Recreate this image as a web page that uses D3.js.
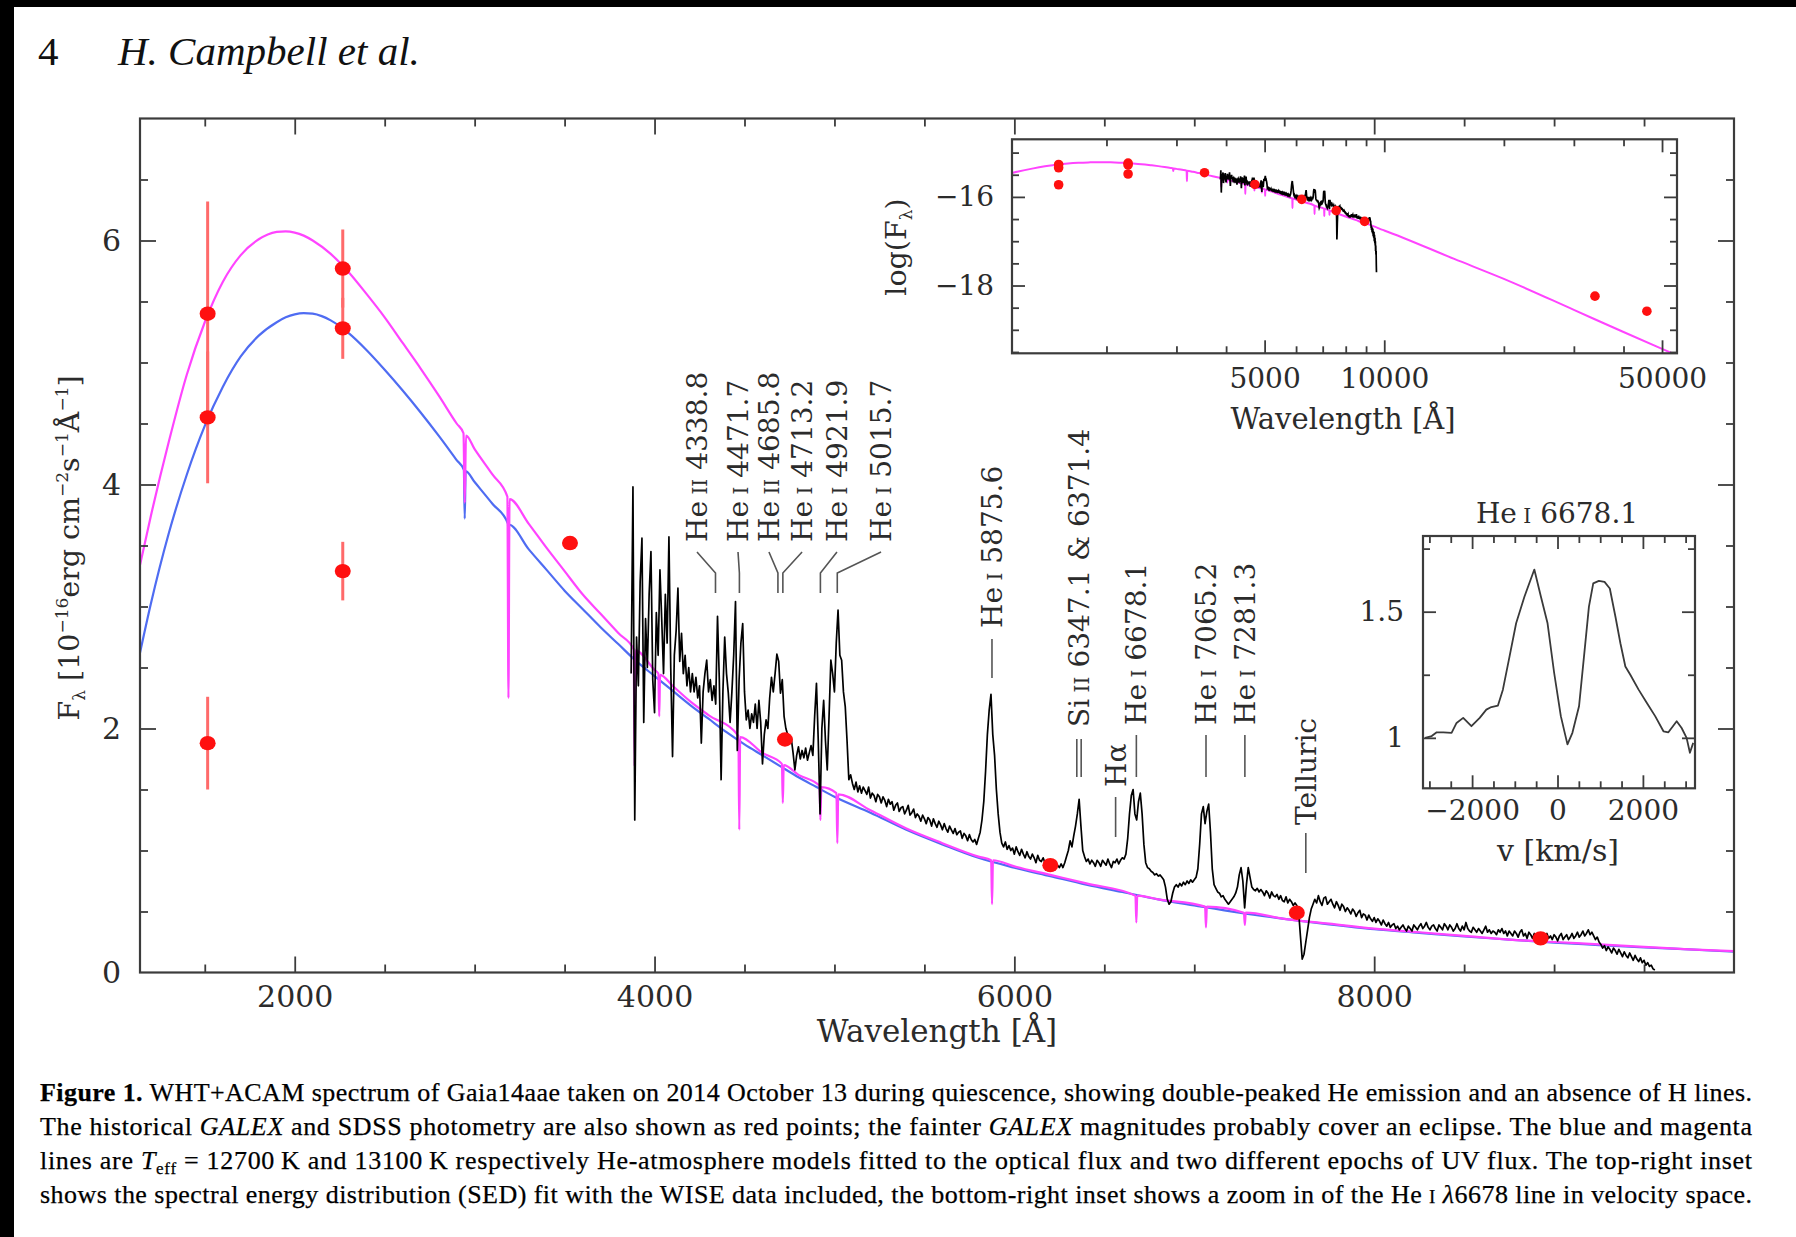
<!DOCTYPE html>
<html>
<head>
<meta charset="utf-8">
<script src="https://cdn.jsdelivr.net/npm/d3@7"></script>
<style>
  body { margin: 0; background: #fff; }
  svg { display: block; }
</style>
</head>
<body>
<svg id="fig" width="1796" height="1237"></svg>
<script>
// ---------------------------------------------------------------
// Gaia14aae: WHT+ACAM spectrum, photometry and He-atmosphere models
// ---------------------------------------------------------------

// Observed spectrum, flux in 1e-16 erg/cm2/s/A, on a 10 A grid from 3870 A
const specStart = 3870;
const specStep = 10;
const specFlux = [
  2.45, 3.98, 1.25, 2.75, 2.35, 3.2, 3.56, 2.05, 2.9, 2.5,      // 3870
  3.1, 3.45, 2.4, 2.13, 2.95, 2.6, 3.3, 2.89, 2.45, 3.1,        // 3970
  2.7, 3.57, 2.5, 1.77, 2.6, 2.8, 3.15, 2.55, 2.78, 2.45,       // 4070
  2.6, 2.35, 2.5, 2.3, 2.45, 2.3, 2.42, 2.25, 2.35, 1.88,       // 4170
  2.3, 2.45, 2.56, 2.3, 2.4, 2.23, 2.35, 2.2, 2.92, 2.4,        // 4270
  1.58, 2.3, 2.75, 2.45, 2.29, 2.05, 2.3, 2.6, 3.04, 1.82,      // 4370
  2.4, 2.7, 2.86, 2.3, 2.07, 2.15, 2.0, 2.12, 2.05, 2.2,        // 4470
  2.0, 2.23, 2.05, 1.71, 1.95, 2.07, 2.0, 2.25, 2.42, 2.3,      // 4570
  2.45, 2.61, 2.55, 2.29, 2.4, 2.1, 2.0, 1.95, 1.88, 1.92,      // 4670
  1.8, 1.66, 1.78, 1.85, 1.75, 1.82, 1.76, 1.84, 1.74, 1.8,     // 4770
  1.86, 1.78, 2.1, 2.37, 1.9, 1.3, 2.0, 2.23, 1.9, 1.66,        // 4870
  2.1, 2.56, 2.45, 2.3, 2.7, 2.97, 2.6, 2.56, 2.3, 2.18,        // 4970
  1.9, 1.58, 1.62, 1.55, 1.5, 1.56, 1.48, 1.53, 1.47, 1.52,     // 5070
  1.49, 1.46, 1.52, 1.43, 1.47, 1.45, 1.40, 1.46, 1.44, 1.39,   // 5170
  1.44, 1.41, 1.36, 1.42, 1.38, 1.40, 1.33, 1.37, 1.39, 1.32,   // 5270
  1.35, 1.36, 1.30, 1.33, 1.37, 1.29, 1.31, 1.34, 1.27, 1.30,   // 5370
  1.28, 1.24, 1.29, 1.26, 1.22, 1.27, 1.25, 1.20, 1.26, 1.22,   // 5470
  1.19, 1.24, 1.21, 1.17, 1.22, 1.18, 1.15, 1.20, 1.17, 1.14,   // 5570
  1.18, 1.13, 1.15, 1.16, 1.10, 1.14, 1.12, 1.08, 1.13, 1.09,   // 5670
  1.07, 1.09, 1.05, 1.1, 1.15, 1.25, 1.4, 1.65, 1.95, 2.15,     // 5770
  2.28, 1.95, 1.78, 1.5, 1.3, 1.15, 1.06, 1.03, 1.07, 1.01,     // 5870
  1.04, 1.0, 1.02, 0.97, 1.03, 0.99, 0.96, 1.01, 0.97, 0.94,    // 5970
  0.99, 0.95, 0.93, 0.97, 0.94, 0.9, 0.96, 0.92, 0.91, 0.94,    // 6070
  0.9, 0.92, 0.87, 0.91, 0.89, 0.85, 0.9, 0.88, 0.86, 0.89,     // 6170
  0.86, 0.9, 0.95, 1.0, 1.08, 1.03, 1.12, 1.2, 1.3, 1.42,       // 6270
  1.2, 1.0, 0.95, 0.91, 0.93, 0.89, 0.92, 0.9, 0.87, 0.92,      // 6370
  0.9, 0.87, 0.92, 0.9, 0.88, 0.93, 0.89, 0.86, 0.91, 0.9,      // 6470
  0.93, 0.89, 0.92, 0.94, 0.93, 0.97, 1.1, 1.3, 1.45, 1.5,      // 6570
  1.3, 1.25, 1.4, 1.47, 1.3, 1.05, 0.9, 0.86, 0.85, 0.83,       // 6670
  0.82, 0.8, 0.81, 0.79, 0.8, 0.78, 0.76, 0.7, 0.6, 0.56,       // 6770
  0.58, 0.65, 0.7, 0.72, 0.7, 0.73, 0.71, 0.74, 0.72, 0.75,     // 6870
  0.73, 0.76, 0.74, 0.76, 0.78, 0.85, 1.05, 1.3, 1.36, 1.22,    // 6970
  1.32, 1.38, 1.15, 0.85, 0.72, 0.69, 0.66, 0.65, 0.62, 0.63,   // 7070
  0.6, 0.58, 0.56, 0.58, 0.6, 0.62, 0.65, 0.7, 0.8, 0.86,       // 7170
  0.75, 0.53, 0.72, 0.86, 0.78, 0.7, 0.68, 0.67, 0.69, 0.66,    // 7270
  0.68, 0.66, 0.63, 0.67, 0.65, 0.61, 0.66, 0.63, 0.62, 0.64,   // 7370
  0.6, 0.63, 0.59, 0.58, 0.62, 0.57, 0.6, 0.58, 0.55, 0.57,     // 7470
  0.55, 0.5, 0.3, 0.11, 0.15, 0.25, 0.35, 0.45, 0.52, 0.56,     // 7570
  0.6, 0.57, 0.63, 0.58, 0.55, 0.61, 0.62, 0.56, 0.58, 0.6,     // 7670
  0.56, 0.53, 0.58, 0.55, 0.51, 0.56, 0.54, 0.5, 0.53, 0.51,    // 7770
  0.48, 0.52, 0.5, 0.46, 0.49, 0.51, 0.45, 0.48, 0.47, 0.43,    // 7870
  0.47, 0.44, 0.42, 0.45, 0.41, 0.44, 0.42, 0.39, 0.43, 0.4,    // 7970
  0.38, 0.41, 0.37, 0.39, 0.4, 0.36, 0.38, 0.35, 0.37, 0.39,    // 8070
  0.36, 0.34, 0.38, 0.36, 0.34, 0.39, 0.37, 0.35, 0.38, 0.4,    // 8170
  0.36, 0.38, 0.41, 0.37, 0.35, 0.38, 0.39, 0.36, 0.34, 0.39,   // 8270
  0.37, 0.35, 0.4, 0.38, 0.35, 0.39, 0.37, 0.34, 0.36, 0.4,     // 8370
  0.36, 0.34, 0.38, 0.35, 0.41, 0.36, 0.34, 0.33, 0.37, 0.35,   // 8470
  0.33, 0.36, 0.34, 0.32, 0.35, 0.38, 0.33, 0.35, 0.32, 0.34,   // 8570
  0.33, 0.31, 0.35, 0.33, 0.36, 0.32, 0.34, 0.3, 0.34, 0.32,    // 8670
  0.3, 0.34, 0.32, 0.29, 0.33, 0.35, 0.3, 0.32, 0.28, 0.33,     // 8770
  0.31, 0.28, 0.32, 0.3, 0.27, 0.31, 0.29, 0.26, 0.3, 0.32,     // 8870
  0.28, 0.3, 0.27, 0.31, 0.29, 0.26, 0.3, 0.32, 0.27, 0.29,     // 8970
  0.31, 0.27, 0.29, 0.32, 0.28, 0.3, 0.33, 0.29, 0.31, 0.34,    // 9070
  0.3, 0.32, 0.35, 0.31, 0.33, 0.3, 0.27, 0.29, 0.25, 0.23,     // 9170
  0.2, 0.22, 0.18, 0.21, 0.19, 0.16, 0.2, 0.18, 0.15, 0.19,     // 9270
  0.16, 0.13, 0.17, 0.14, 0.12, 0.16, 0.13, 0.1, 0.14, 0.11,    // 9370
  0.09, 0.12, 0.08, 0.1, 0.06, 0.08, 0.05, 0.06, 0.03, 0.02     // 9470
];

// Teff = 13100 K He-atmosphere model (magenta): [wavelength A, flux]
const modelHot = [
  [1140, 3.34], [1200, 3.74], [1300, 4.35], [1400, 4.9], [1500, 5.33], [1600, 5.66],
  [1700, 5.88], [1800, 6.01], [1850, 6.05], [1900, 6.07], [1950, 6.075], [2000, 6.065],
  [2050, 6.04], [2100, 6.0], [2200, 5.89], [2300, 5.74], [2400, 5.56], [2500, 5.37],
  [2600, 5.16], [2700, 4.95], [2800, 4.73], [2900, 4.5], [2938, 4.42], [2945, 3.85],
  [2952, 4.4], [3000, 4.29], [3100, 4.08], [3182, 3.9], [3188, 2.25], [3194, 3.88],
  [3300, 3.68], [3400, 3.48], [3500, 3.29], [3600, 3.1], [3700, 2.94], [3800, 2.78],
  [3884, 2.65], [3889, 1.69], [3894, 2.64], [4000, 2.48], [4021, 2.45], [4026, 2.1],
  [4031, 2.44], [4100, 2.35], [4200, 2.22], [4300, 2.11], [4466, 1.94], [4471, 1.17],
  [4476, 1.93], [4600, 1.8], [4708, 1.71], [4713, 1.39], [4718, 1.7], [4800, 1.62],
  [4917, 1.53], [4922, 1.25], [4927, 1.52], [5011, 1.47], [5016, 1.06], [5021, 1.46],
  [5200, 1.33], [5400, 1.18], [5600, 1.06], [5800, 0.95], [5871, 0.92], [5876, 0.56],
  [5881, 0.92], [6000, 0.87], [6200, 0.8], [6400, 0.73], [6673, 0.63], [6678, 0.41],
  [6683, 0.63], [6800, 0.6], [7060, 0.54], [7065, 0.37], [7070, 0.54], [7276, 0.49],
  [7281, 0.39], [7286, 0.49], [7500, 0.44], [7750, 0.4], [8000, 0.36], [8250, 0.33],
  [8500, 0.3], [8750, 0.27], [9000, 0.25], [9250, 0.23], [9500, 0.21], [9750, 0.19],
  [10000, 0.175]
];

// Same model continued into the WISE range, log10(F_lambda)
const modelHotIR = [
  [15000, -17.4], [20000, -17.85], [30000, -18.55], [40000, -19.05], [50000, -19.43], [56000, -19.62]
];

// Teff = 12700 K He-atmosphere model (blue): [wavelength A, flux]
const modelCool = [
  [1140, 2.62], [1200, 3.02], [1300, 3.6], [1400, 4.08], [1500, 4.48], [1600, 4.8],
  [1700, 5.05], [1800, 5.22], [1900, 5.33], [1950, 5.37], [2000, 5.395], [2050, 5.405],
  [2100, 5.4], [2150, 5.38], [2200, 5.345], [2300, 5.24], [2400, 5.1], [2500, 4.94],
  [2600, 4.77], [2700, 4.59], [2800, 4.4], [2900, 4.2], [2940, 4.12], [2945, 3.72],
  [2950, 4.11], [3000, 4.02], [3100, 3.84], [3185, 3.68], [3188, 3.58], [3192, 3.67],
  [3300, 3.47], [3400, 3.3], [3500, 3.13], [3600, 2.98], [3700, 2.83], [3800, 2.69],
  [3900, 2.55], [4000, 2.43], [4100, 2.31], [4200, 2.19], [4300, 2.08], [4400, 1.97],
  [4500, 1.87], [4600, 1.78], [4700, 1.69], [4800, 1.6], [4900, 1.52], [5000, 1.44],
  [5200, 1.31], [5400, 1.17], [5600, 1.05], [5800, 0.94], [6000, 0.86], [6200, 0.79],
  [6400, 0.72], [6600, 0.66], [6800, 0.6], [7000, 0.55], [7250, 0.49], [7500, 0.44],
  [7750, 0.395], [8000, 0.355], [8250, 0.325], [8500, 0.295], [8750, 0.27], [9000, 0.245],
  [9250, 0.225], [9500, 0.205], [9750, 0.19], [10000, 0.17]
];

// GALEX FUV/NUV (two epochs + faint) and SDSS ugriz photometry
const photLambda = [1516, 1516, 1516, 2267, 2267, 2267, 3530, 4725, 6200, 7570, 8925];
const photFlux   = [5.40, 4.55, 1.88, 5.77, 5.28, 3.29, 3.52, 1.91, 0.88, 0.49, 0.28];
const photErr    = [0.92, 0.54, 0.38, 0.32, 0.25, 0.24, 0, 0, 0, 0, 0];

// WISE W1/W2, log10(F_lambda)
const wiseLambda  = [33900, 45800];
const wiseLogFlux = [-18.24, -18.58];

// Identified lines
const lineNames = ['He II 4338.8', 'He I 4471.7', 'He II 4685.8', 'He I 4713.2', 'He I 4921.9',
                   'He I 5015.7', 'He I 5875.6', 'Si II 6347.1 & 6371.4', 'Hα', 'He I 6678.1',
                   'He I 7065.2', 'He I 7281.3', 'Telluric'];
const lineLambda = [[4338.8], [4471.7], [4685.8], [4713.2], [4921.9], [5015.7], [5875.6],
                    [6347.1, 6371.4], [6562.8], [6678.1], [7065.2], [7281.3], [7620]];

// He I 6678 profile in velocity space
const profileVel  = [-3101, -2946, -2829, -2674, -2481, -2364, -2209, -2016, -1822, -1667,
                     -1550, -1395, -1279, -1124, -969, -775, -543, -388, -233, -78,
                     78, 233, 349, 504, 620, 736, 837, 969, 1101, 1225,
                     1357, 1473, 1589, 1705, 1899, 2093, 2287, 2481, 2597, 2791,
                     2907, 3023, 3101, 3178];
const profileFlux = [1.0, 1.007, 1.022, 1.022, 1.02, 1.059, 1.079, 1.046, 1.079, 1.112,
                     1.122, 1.128, 1.191, 1.322, 1.454, 1.559, 1.667, 1.559, 1.454, 1.257,
                     1.086, 0.974, 1.02, 1.125, 1.322, 1.52, 1.612, 1.622, 1.618, 1.592,
                     1.48, 1.375, 1.283, 1.25, 1.191, 1.138, 1.086, 1.026, 1.022, 1.066,
                     1.039, 1.0, 0.941, 0.98];

// Axis ticks
const mainXMajor = [2000, 4000, 6000, 8000];
const mainXMinor = [1500, 2500, 3000, 3500, 4500, 5000, 5500, 6500, 7000, 7500, 8500, 9000, 9500];
const mainYMajor = [2, 4, 6];
const mainYMinor = [0.5, 1, 1.5, 2.5, 3, 3.5, 4.5, 5, 5.5, 6.5];
const sedXMajor = [5000, 10000, 50000];
const sedXMinor = [2000, 3000, 4000, 6000, 7000, 8000, 9000, 20000, 30000, 40000];
const sedYMajor = [-18, -16];
const sedYMinor = [-19.5, -19, -18.5, -17.5, -17, -16.5, -15.5, -15];
const velXMajor = [-2000, 0, 2000];
const velXMinor = [-3000, -2500, -1500, -1000, -500, 500, 1000, 1500, 2500, 3000];
const velYMajor = [1, 1.5];
const velYMinor = [1.25, 1.75];

// Caption lines
const captionLines = [
  [['Figure 1.', 'b'], [' WHT+ACAM spectrum of Gaia14aae taken on 2014 October 13 during quiescence, showing double-peaked He emission and an absence of H lines.']],
  [['The historical '], ['GALEX', 'i'], [' and SDSS photometry are also shown as red points; the fainter '], ['GALEX', 'i'], [' magnitudes probably cover an eclipse. The blue and magenta']],
  [['lines are '], ['T', 'i'], ['eff', 'sub'], [' = 12700\u2009K and 13100\u2009K respectively He-atmosphere models fitted to the optical flux and two different epochs of UV flux. The top-right inset']],
  [['shows the spectral energy distribution (SED) fit with the WISE data included, the bottom-right inset shows a zoom in of the He '], ['I', 'sc'], [' '], ['λ', 'i'], ['6678 line in velocity space.']]
];

// ---------------------------------------------------------------
const W = 1796, H = 1237;
const FRAME = '#3c3c3c';
const INK = '#2b2b2b';
const SERIF = '"DejaVu Serif", serif';
const TIMES = '"Liberation Serif", "Times New Roman", Times, serif';
const MAGENTA = '#ff44ff';
const BLUE = '#4f6cf2';
const RED = '#ff1010';
const ERRRED = '#ff6a6a';

const svg = d3.select('#fig');
svg.append('rect').attr('width', W).attr('height', H).attr('fill', '#fff');
// dark scan margins
svg.append('rect').attr('x', 0).attr('y', 0).attr('width', 14).attr('height', H).attr('fill', '#000');
svg.append('rect').attr('x', 0).attr('y', 0).attr('width', W).attr('height', 7).attr('fill', '#000');

// running head
svg.append('text').attr('x', 38).attr('y', 65).attr('font-family', TIMES).attr('font-size', 41)
  .attr('fill', '#111').text('4');
svg.append('text').attr('x', 118).attr('y', 65).attr('font-family', TIMES).attr('font-size', 41)
  .attr('font-style', 'italic').attr('fill', '#111').text('H. Campbell et al.');

// ---------- helpers ----------
function tickSet(g, scale, side, vals, len, pos) {
  const gen = { bottom: d3.axisBottom, top: d3.axisTop, left: d3.axisLeft, right: d3.axisRight }[side];
  const horiz = side === 'bottom' || side === 'top';
  const t = g.append('g')
    .attr('transform', horiz ? `translate(0,${pos})` : `translate(${pos},0)`)
    .call(gen(scale).tickValues(vals).tickSize(-len).tickFormat(''));
  t.select('.domain').remove();
  t.selectAll('.tick line').attr('stroke', FRAME).attr('stroke-width', 1.8);
  t.selectAll('text').remove();
}

function tickLabels(g, scale, side, vals, pos, pad, fs, fmt) {
  const gen = side === 'bottom' ? d3.axisBottom : d3.axisLeft;
  const t = g.append('g')
    .attr('transform', side === 'bottom' ? `translate(0,${pos})` : `translate(${pos},0)`)
    .call(gen(scale).tickValues(vals).tickSize(0).tickPadding(pad).tickFormat(fmt));
  t.select('.domain').remove();
  t.selectAll('text').attr('font-family', SERIF).attr('font-size', fs).attr('fill', INK);
}

function panel(g, xs, ys, ticks, lenMaj, lenMin) {
  const [x0, x1] = xs.range();
  const [y0, y1] = ys.range();
  g.append('rect').attr('x', x0).attr('y', y1).attr('width', x1 - x0).attr('height', y0 - y1)
    .attr('fill', '#fff').attr('stroke', 'none');
  return () => {
    tickSet(g, xs, 'bottom', ticks.xMajor, lenMaj, y0);
    tickSet(g, xs, 'bottom', ticks.xMinor, lenMin, y0);
    tickSet(g, xs, 'top', ticks.xMajor, lenMaj, y1);
    tickSet(g, xs, 'top', ticks.xMinor, lenMin, y1);
    tickSet(g, ys, 'left', ticks.yMajor, lenMaj, x0);
    tickSet(g, ys, 'left', ticks.yMinor, lenMin, x0);
    tickSet(g, ys, 'right', ticks.yMajor, lenMaj, x1);
    tickSet(g, ys, 'right', ticks.yMinor, lenMin, x1);
    g.append('rect').attr('x', x0).attr('y', y1).attr('width', x1 - x0).attr('height', y0 - y1)
      .attr('fill', 'none').attr('stroke', FRAME).attr('stroke-width', 2.2);
  };
}

function clipFor(id, xs, ys) {
  const [x0, x1] = xs.range();
  const [y0, y1] = ys.range();
  svg.append('clipPath').attr('id', id).append('rect')
    .attr('x', x0).attr('y', y1).attr('width', x1 - x0).attr('height', y0 - y1);
  return `url(#${id})`;
}

// He I / He II style label: roman numerals in small capitals
function ionText(sel, str, fs) {
  str.split(' ').forEach((tok, i) => {
    const t = sel.append('tspan').text((i ? ' ' : '') + tok);
    if (/^I+$/.test(tok)) t.attr('font-size', fs * 0.72);
  });
}

// ---------- main panel ----------
const x = d3.scaleLinear().domain([1140, 10000]).range([140, 1734]);
const y = d3.scaleLinear().domain([0, 7]).range([972.5, 118.5]);
const gMain = svg.append('g');
const finishMain = panel(gMain, x, y,
  { xMajor: mainXMajor, xMinor: mainXMinor, yMajor: mainYMajor, yMinor: mainYMinor }, 16, 8);
const mainClip = clipFor('clipMain', x, y);

const modelLine = d3.line().x(d => x(d[0])).y(d => y(d[1])).curve(d3.curveMonotoneX);
const gData = gMain.append('g').attr('clip-path', mainClip);
gData.append('path').datum(modelCool).attr('d', modelLine)
  .attr('fill', 'none').attr('stroke', BLUE).attr('stroke-width', 2.2);
gData.append('path').datum(modelHot).attr('d', modelLine)
  .attr('fill', 'none').attr('stroke', MAGENTA).attr('stroke-width', 2.2);

const spectrum = specFlux.map((f, i) => [specStart + i * specStep, f]);
gData.append('path').datum(spectrum)
  .attr('d', d3.line().x(d => x(d[0])).y(d => y(d[1])))
  .attr('fill', 'none').attr('stroke', '#000').attr('stroke-width', 1.7).attr('stroke-linejoin', 'round');

const phot = photLambda.map((l, i) => ({ l, f: photFlux[i], e: photErr[i] }));
gData.selectAll('line.err').data(phot.filter(d => d.e > 0)).join('line')
  .attr('x1', d => x(d.l)).attr('x2', d => x(d.l))
  .attr('y1', d => y(d.f - d.e)).attr('y2', d => y(d.f + d.e))
  .attr('stroke', ERRRED).attr('stroke-width', 3);
gData.selectAll('ellipse.pt').data(phot).join('ellipse')
  .attr('cx', d => x(d.l)).attr('cy', d => y(d.f)).attr('rx', 8).attr('ry', 7.2)
  .attr('fill', RED);

finishMain();

tickLabels(gMain, x, 'bottom', mainXMajor, 972.5, 13, 30, d3.format('d'));
tickLabels(gMain, y, 'left', [0, 2, 4, 6], 140, 19, 30, d3.format('d'));

gMain.append('text').attr('x', 937).attr('y', 1042).attr('text-anchor', 'middle')
  .attr('font-family', SERIF).attr('font-size', 31).attr('fill', INK).text('Wavelength [Å]');

// y-axis title with sub/superscripts
{
  const t = gMain.append('text').attr('transform', 'translate(79,548) rotate(-90)')
    .attr('text-anchor', 'middle').attr('font-family', SERIF).attr('font-size', 28.5).attr('fill', INK);
  const s = 17;
  t.append('tspan').text('F');
  t.append('tspan').attr('font-size', s).attr('dy', 6).text('λ');
  t.append('tspan').attr('dy', -6).text(' [10');
  t.append('tspan').attr('font-size', s).attr('dy', -11).text('−16');
  t.append('tspan').attr('dy', 11).text('erg cm');
  t.append('tspan').attr('font-size', s).attr('dy', -11).text('−2');
  t.append('tspan').attr('dy', 11).text('s');
  t.append('tspan').attr('font-size', s).attr('dy', -11).text('−1');
  t.append('tspan').attr('dy', 11).text('Å');
  t.append('tspan').attr('font-size', s).attr('dy', -11).text('−1');
  t.append('tspan').attr('dy', 11).text(']');
}

// ---------- line identifications ----------
const LBL_FS = 28;
const gLbl = gMain.append('g');
// upper group with angled leaders: column wavelength for each label
const upperCols = [4236, 4464, 4636, 4820, 5014, 5259];
upperCols.forEach((col, i) => {
  const cx = x(col);
  const t = gLbl.append('text').attr('transform', `translate(${cx + 0.36 * LBL_FS},542) rotate(-90)`)
    .attr('font-family', SERIF).attr('font-size', LBL_FS).attr('fill', INK);
  ionText(t, lineNames[i], LBL_FS);
  const lx = x(lineLambda[i][0]);
  gLbl.append('path').attr('d', d3.line()([[cx, 552], [lx, 573], [lx, 593]]))
    .attr('fill', 'none').attr('stroke', '#555').attr('stroke-width', 1.6);
});
// lower group: label directly above the line
const lowerStart = [628, 727, 787, 725, 725, 725, 825];
const lowerLead = [[639, 678], [739, 777], [797, 837], [735, 777], [735, 777], [735, 777], [833, 873]];
for (let k = 0; k < 7; k++) {
  const i = k + 6;
  const lams = lineLambda[i];
  const cx = x(d3.mean(lams));
  const t = gLbl.append('text').attr('transform', `translate(${cx + 0.36 * LBL_FS},${lowerStart[k]}) rotate(-90)`)
    .attr('font-family', SERIF).attr('font-size', LBL_FS).attr('fill', INK);
  ionText(t, lineNames[i], LBL_FS);
  lams.forEach(l => {
    gLbl.append('line').attr('x1', x(l)).attr('x2', x(l))
      .attr('y1', lowerLead[k][0]).attr('y2', lowerLead[k][1])
      .attr('stroke', '#555').attr('stroke-width', 1.6);
  });
}

// ---------- SED inset (log-log) ----------
const xs = d3.scaleLog().domain([1157, 54530]).range([1012, 1677]);
const ys = d3.scaleLinear().domain([-19.53, -14.70]).range([353.3, 139.3]);
const gSed = svg.append('g');
const finishSed = panel(gSed, xs, ys,
  { xMajor: sedXMajor, xMinor: sedXMinor, yMajor: sedYMajor, yMinor: sedYMinor }, 13, 7);
const sedClip = clipFor('clipSed', xs, ys);
const gSedData = gSed.append('g').attr('clip-path', sedClip);
const sedModel = modelHot.map(d => [d[0], Math.log10(d[1]) - 16]).concat(modelHotIR);
gSedData.append('path').datum(sedModel)
  .attr('d', d3.line().x(d => xs(d[0])).y(d => ys(d[1])).curve(d3.curveMonotoneX))
  .attr('fill', 'none').attr('stroke', MAGENTA).attr('stroke-width', 2);
gSedData.append('path').datum(spectrum)
  .attr('d', d3.line().x(d => xs(d[0])).y(d => ys(Math.log10(d[1]) - 16)))
  .attr('fill', 'none').attr('stroke', '#000').attr('stroke-width', 1.7);
const sedPts = phot.map(d => [d.l, Math.log10(d.f) - 16])
  .concat(wiseLambda.map((l, i) => [l, wiseLogFlux[i]]));
gSedData.selectAll('circle').data(sedPts).join('circle')
  .attr('cx', d => xs(d[0])).attr('cy', d => ys(d[1])).attr('r', 4.8).attr('fill', RED);
finishSed();
tickLabels(gSed, xs, 'bottom', sedXMajor, 353.3, 15, 28, d3.format('d'));
tickLabels(gSed, ys, 'left', sedYMajor, 1012, 18, 28, d3.format('d'));
gSed.append('text').attr('x', 1343).attr('y', 429).attr('text-anchor', 'middle')
  .attr('font-family', SERIF).attr('font-size', 29).attr('fill', INK).text('Wavelength [Å]');
{
  const t = gSed.append('text').attr('transform', 'translate(906,247) rotate(-90)')
    .attr('text-anchor', 'middle').attr('font-family', SERIF).attr('font-size', 28.5).attr('fill', INK);
  t.append('tspan').text('log(F');
  t.append('tspan').attr('font-size', 17).attr('dy', 6).text('λ');
  t.append('tspan').attr('dy', -6).text(')');
}

// ---------- He I 6678 velocity inset ----------
const xv = d3.scaleLinear().domain([-3150, 3220]).range([1423, 1695]);
const yv = d3.scaleLinear().domain([0.8, 1.8]).range([788.3, 536]);
const gVel = svg.append('g');
const finishVel = panel(gVel, xv, yv,
  { xMajor: velXMajor, xMinor: velXMinor, yMajor: velYMajor, yMinor: velYMinor }, 13, 7);
const velClip = clipFor('clipVel', xv, yv);
gVel.append('g').attr('clip-path', velClip).append('path')
  .datum(profileVel.map((v, i) => [v, profileFlux[i]]))
  .attr('d', d3.line().x(d => xv(d[0])).y(d => yv(d[1])))
  .attr('fill', 'none').attr('stroke', '#3a3a3a').attr('stroke-width', 1.8).attr('stroke-linejoin', 'round');
finishVel();
tickLabels(gVel, xv, 'bottom', velXMajor, 788.3, 12, 28, d3.format('d'));
tickLabels(gVel, yv, 'left', velYMajor, 1423, 19, 28, d3.format('~g'));
gVel.append('text').attr('x', 1558).attr('y', 861).attr('text-anchor', 'middle')
  .attr('font-family', SERIF).attr('font-size', 30).attr('fill', INK).text('v [km/s]');
{
  const t = gVel.append('text').attr('x', 1557).attr('y', 523).attr('text-anchor', 'middle')
    .attr('font-family', SERIF).attr('font-size', 28).attr('fill', INK);
  ionText(t, 'He I 6678.1', 28);
}

// ---------- caption ----------
const capBase = [1101, 1135, 1169, 1203];
captionLines.forEach((parts, i) => {
  const t = svg.append('text').attr('x', 40).attr('y', capBase[i])
    .attr('font-family', TIMES).attr('font-size', 26).attr('fill', '#000')
    .attr('stroke', '#000').attr('stroke-width', 0.25)
    .attr('textLength', 1712).attr('lengthAdjust', 'spacing');
  let shifted = 0;
  parts.forEach(([txt, style]) => {
    const s = t.append('tspan').text(txt);
    if (shifted) { s.attr('dy', -shifted); shifted = 0; }
    if (style === 'b') s.attr('font-weight', 'bold');
    if (style === 'i') s.attr('font-style', 'italic');
    if (style === 'sc') s.attr('font-size', 19);
    if (style === 'sub') { s.attr('font-size', 17).attr('dy', 5); shifted = 5; }
  });
});
</script>
</body>
</html>
